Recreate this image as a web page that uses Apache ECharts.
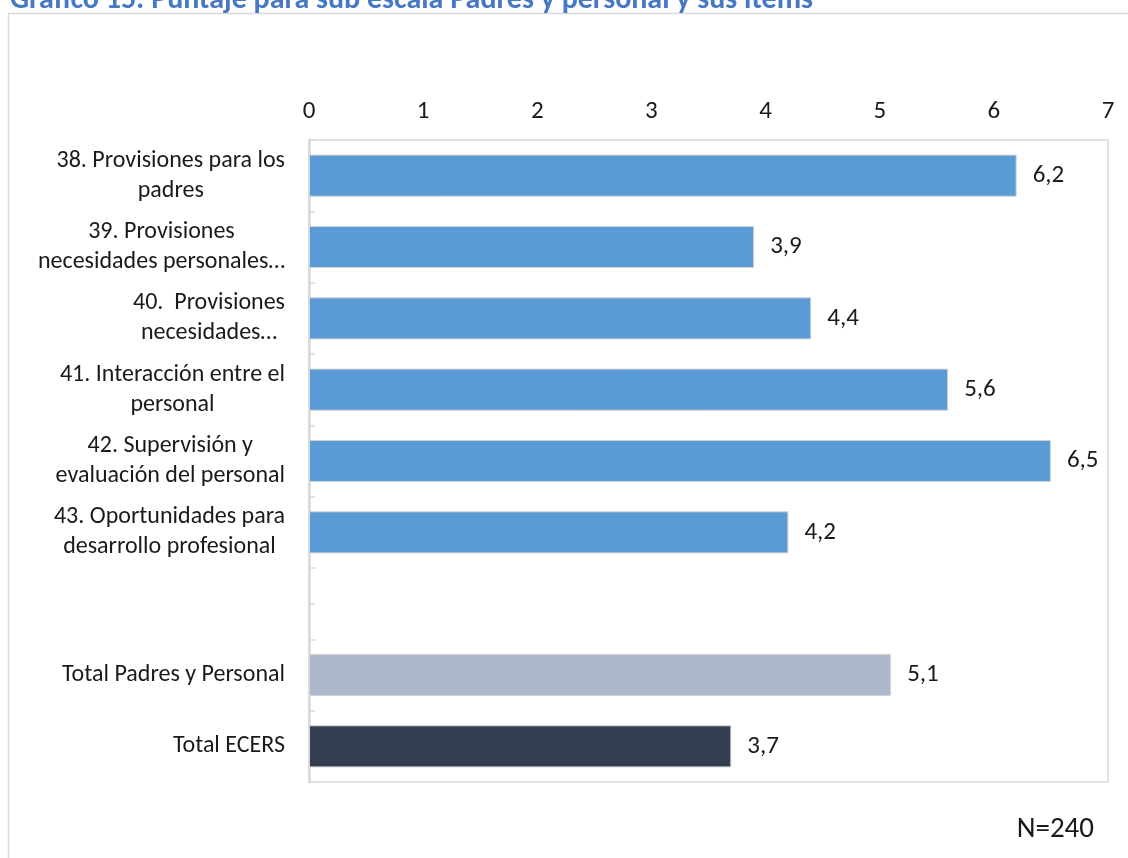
<!DOCTYPE html>
<html>
<head>
<meta charset="utf-8">
<script src="https://cdn.jsdelivr.net/npm/echarts@6/dist/echarts.min.js"></script>
<style>
  html, body { margin: 0; padding: 0; background: #fff; }
  #chart { width: 1128px; height: 858px; }
</style>
</head>
<body>
<div id="chart"></div>
<script>
// Items of the "Padres y personal" sub-scale, followed by the two totals
const categories = [
  '38. Provisiones para los\npadres',
  '39. Provisiones\nnecesidades personales…',
  '40.  Provisiones\nnecesidades…',
  '41. Interacción entre el\npersonal',
  '42. Supervisión y\nevaluación del personal',
  '43. Oportunidades para\ndesarrollo profesional',
  '',
  'Total Padres y Personal',
  'Total ECERS'
];
const scores = [6.2, 3.9, 4.4, 5.6, 6.5, 4.2, '-', 5.1, 3.7];
// kind of row: item, sub-scale total or overall total
const rowKinds = ['item', 'item', 'item', 'item', 'item', 'item', 'gap', 'subtotal', 'total'];
const xTicks = [0, 1, 2, 3, 4, 5, 6, 7];
const titleText = 'Gráfico 15: Puntaje para sub escala Padres y personal y sus ítems';
const sampleNote = 'N=240';

const FONT = 'Carlito, Calibri, Lato, sans-serif';
const kindColor = { item: '#5B9BD5', subtotal: '#ADB9CA', total: '#333F50', gap: '#ffffff' };

const chart = echarts.init(document.getElementById('chart'), null, { renderer: 'canvas' });

chart.setOption({
  animation: false,
  backgroundColor: '#ffffff',
  title: [
    {
      text: titleText,
      left: 5,
      top: -20,
      textStyle: { fontFamily: FONT, fontSize: 30, fontWeight: 'bold', color: '#4678C6' }
    },
    {
      text: sampleNote,
      right: 29,
      top: 810,
      textStyle: { fontFamily: FONT, fontSize: 29, fontWeight: 'normal', color: '#1a1a1a' }
    }
  ],
  graphic: [
    {
      type: 'rect',
      silent: true,
      shape: { x: 8.5, y: 13.5, width: 1200, height: 900 },
      style: { fill: 'none', stroke: '#d9d9d9', lineWidth: 1.5 }
    }
  ],
  grid: {
    left: 309,
    right: 20,
    top: 140,
    bottom: 76,
    show: true,
    borderColor: '#d9d9d9',
    borderWidth: 1.5,
    containLabel: false
  },
  xAxis: {
    type: 'value',
    position: 'top',
    min: 0,
    max: 7,
    interval: 1,
    axisLine: { show: false },
    axisTick: { show: false },
    splitLine: { show: false },
    axisLabel: {
      fontFamily: FONT,
      fontSize: 25,
      color: '#1a1a1a',
      margin: 16,
      formatter: (v) => xTicks.includes(v) ? String(v) : ''
    }
  },
  yAxis: [
    {
      type: 'category',
      position: 'left',
      inverse: true,
      data: categories,
      axisLine: { show: true, lineStyle: { color: '#d9d9d9', width: 2.5 } },
      axisTick: { show: true, inside: true, length: 6, lineStyle: { color: '#d9d9d9', width: 1.5 } },
      axisLabel: {
        margin: 24,
        fontFamily: FONT,
        fontSize: 24,
        color: '#1a1a1a',
        lineHeight: 30,
        formatter: (v) => v.split('\n').map((l) => '{c|' + l + '}').join('\n'),
        rich: {
          c: { align: 'center', fontFamily: FONT, fontSize: 24, color: '#1a1a1a', lineHeight: 30 }
        }
      }
    },
    {
      type: 'category',
      position: 'left',
      inverse: true,
      data: categories,
      axisLine: { show: false },
      axisLabel: { show: false },
      axisTick: { show: true, inside: true, alignWithLabel: true, length: 6, lineStyle: { color: '#d9d9d9', width: 1.5 } }
    }
  ],
  series: [
    {
      type: 'bar',
      yAxisIndex: 0,
      barWidth: '59%',
      data: scores.map((v, i) => ({
        value: v,
        itemStyle: { color: kindColor[rowKinds[i]] }
      })),
      itemStyle: { borderColor: '#d4d4d4', borderWidth: 1 },
      label: {
        show: true,
        position: 'right',
        distance: 16,
        fontFamily: FONT,
        fontSize: 25,
        color: '#1a1a1a',
        formatter: (p) => (typeof p.value === 'number' ? p.value.toFixed(1).replace('.', ',') : '')
      }
    }
  ]
});
</script>
</body>
</html>
